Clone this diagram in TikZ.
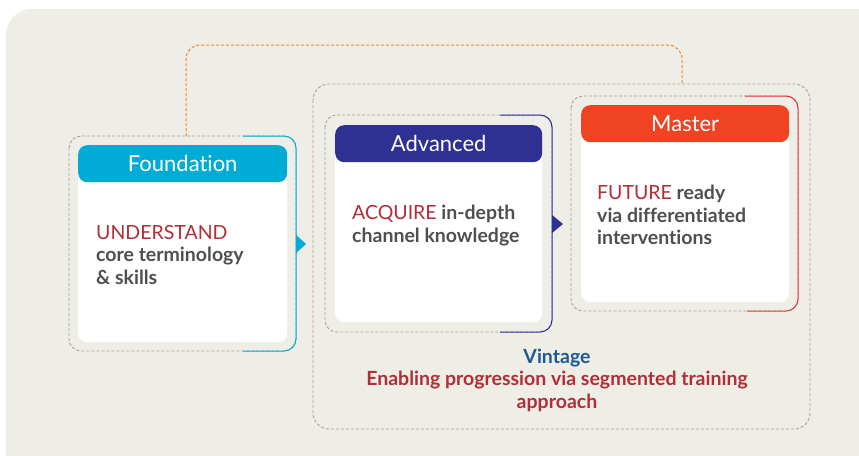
\documentclass[tikz,border=0pt]{standalone}
\usepackage{fontspec}
\setmainfont{Lato}[Ligatures=NoCommon]
\usetikzlibrary{calc}
\definecolor{bgc}{HTML}{EEEDE6}
\definecolor{dgrey}{HTML}{A3A3A3}
\definecolor{fblue}{HTML}{00ABD6}
\definecolor{anavy}{HTML}{2E3192}
\definecolor{mred}{HTML}{EF4324}
\definecolor{mline}{HTML}{E8383D}
\definecolor{kred}{HTML}{B32D38}
\definecolor{tgrey}{HTML}{4F4F4F}
\definecolor{vblue}{HTML}{1D5A8E}
\definecolor{orng}{HTML}{F0892B}
\tikzset{
  grpbox/.style={draw=dgrey, line width=0.9pt, dash pattern=on 3pt off 2pt, rounded corners=12pt},
  card/.style={fill=white, rounded corners=9pt},
  hdr/.style={rounded corners=9pt},
  hdrtext/.style={text=white, font=\fontsize{22}{24}\selectfont},
  body/.style={text=tgrey, align=left, anchor=north west, inner sep=0pt, font=\fontsize{19.5}{22.5}\selectfont\bfseries},
  kw/.style={text=kred},
}
\begin{document}
\begin{tikzpicture}[x=1pt,y=-1pt]
\useasboundingbox (0,0) rectangle (859,455);
\fill[white] (0,0) rectangle (859,455);
\fill[bgc, rounded corners=26pt] (6,9) rectangle (885,480);

% orange dashed connector
\coordinate (ostart) at (186,136);
\coordinate (oend) at (682,84);
\draw[orng, line width=1pt, dash pattern=on 3pt off 2pt, rounded corners=14pt] (ostart) -- (186,45) -- (682,45) -- (oend);

% Vintage big group
\draw[grpbox, rounded corners=16pt] (313,84) rectangle (810,429);

% Foundation group
\draw[grpbox] (69,136) rectangle (296,351);
\draw[fblue, line width=1pt, rounded corners=12pt] (243,136) -- (296,136) -- (296,351) -- (243,351);
\fill[fblue] (296,235) -- (306,244) -- (296,253) -- cycle;
\node[card, minimum width=209pt, minimum height=197pt, anchor=north west] (fcard) at (78,145) {};
\node[hdr, fill=fblue, minimum width=209pt, minimum height=37pt, anchor=north west] (fhdr) at (78,145) {};
\node[hdrtext] at (fhdr.center) {Foundation};
\node[body] (ftext) at (96,225) {{\color{kred}\mdseries UNDERSTAND}\\core terminology\\\& skills};

% Advanced group
\draw[grpbox] (325,115) rectangle (552,332);
\draw[anavy, line width=1pt, rounded corners=12pt] (500,115) -- (552,115) -- (552,332) -- (500,332);
\fill[anavy] (552,215) -- (563,224) -- (552,233) -- cycle;
\node[card, minimum width=207pt, minimum height=197pt, anchor=north west] (acard) at (335,125) {};
\node[hdr, fill=anavy, minimum width=207pt, minimum height=37pt, anchor=north west] (ahdr) at (335,125) {};
\node[hdrtext] at (ahdr.center) {Advanced};
\node[body] (atext) at (352,205) {{\color{kred}\mdseries ACQUIRE} in-depth\\channel knowledge};

% Master group
\draw[grpbox] (571,96) rectangle (798,311);
\draw[mline, line width=1pt, rounded corners=12pt] (745,96) -- (798,96) -- (798,311) -- (747,311);
\node[card, minimum width=208pt, minimum height=197pt, anchor=north west] (mcard) at (581,105) {};
\node[hdr, fill=mred, minimum width=208pt, minimum height=37pt, anchor=north west] (mhdr) at (581,105) {};
\node[hdrtext] at (mhdr.center) {Master};
\node[body] (mtext) at (597,185) {{\color{kred}\mdseries FUTURE} ready\\via differentiated\\interventions};

% Vintage label
\node[text=vblue, font=\fontsize{19.5}{22}\selectfont\bfseries] (vtitle) at (557,358) {Vintage};
\node[text=kred, align=center, inner sep=0pt, font=\fontsize{19.5}{22.5}\selectfont\bfseries, anchor=north] (vtext) at (557,371) {Enabling progression via segmented training\\approach};
\end{tikzpicture}
\end{document}
